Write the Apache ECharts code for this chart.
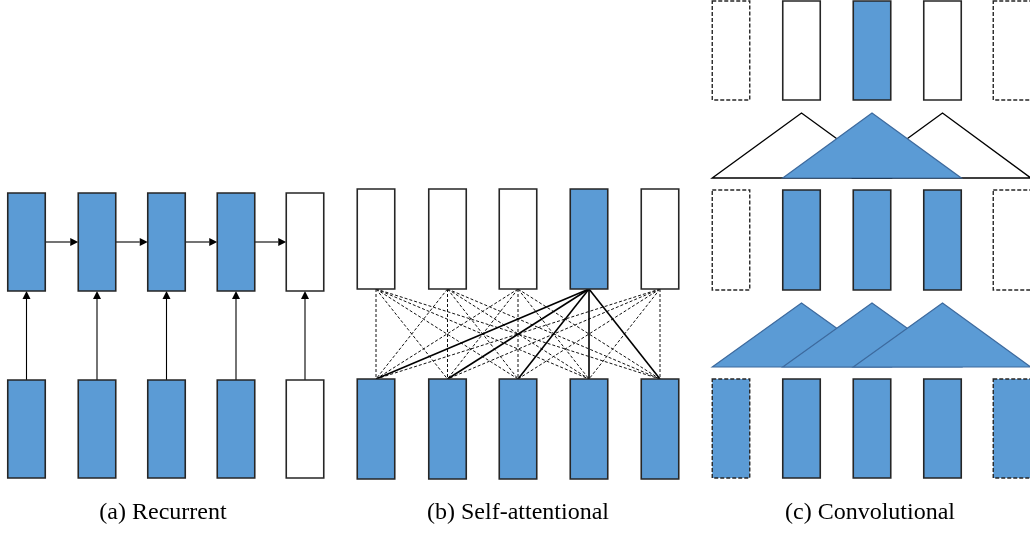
<!DOCTYPE html>
<html><head><meta charset="utf-8">
<script src="https://cdn.jsdelivr.net/npm/echarts@6/dist/echarts.min.js"></script>
<style>html,body{margin:0;padding:0;background:#fff}#c{width:1030px;height:535px}</style>
</head><body><div id="c"></div>
<script>
// ---- Diagram data ----
// Column centres for each panel
const colsA = [26.5, 97, 166.5, 236, 305];
const colsB = [376, 447.5, 518, 589, 660];
const colsC = [731, 801.5, 872, 942.5, 1012];
// Row extents [top, bottom]
const rowA_top = [193, 291];
const rowA_bottom = [380, 478];
const rowB_top = [189, 289];
const rowB_bottom = [379, 479];
const rowC_1 = [1, 100];
const rowC_2 = [190, 290];
const rowC_3 = [379, 478];
// Fill states (1 = filled blue, 0 = white)
const fillA_top = [1, 1, 1, 1, 0];
const fillA_bottom = [1, 1, 1, 1, 0];
const fillB_top = [0, 0, 0, 1, 0];
const fillB_bottom = [1, 1, 1, 1, 1];
const fillC_1 = [0, 0, 1, 0, 0];
const fillC_2 = [0, 1, 1, 1, 0];
const fillC_3 = [1, 1, 1, 1, 1];
const dashedC = [1, 0, 0, 0, 1];          // padding positions
const attnFocus = 3;                      // highlighted query in (b)
const recurrentY = 242;                   // level of the recurrent arrows
// Convolution windows: [firstCol, centreCol, lastCol]
const convWindows = [[0, 1, 2], [1, 2, 3], [2, 3, 4]];
const conv1Fill = [0, 1, 0];
const conv1Order = [0, 2, 1];
const conv2Fill = [1, 1, 1];
const conv1Y = [178, 113];  // [base, peak]
const conv2Y = [367, 303];
const captions = ['(a) Recurrent', '(b) Self-attentional', '(c) Convolutional'];
const captionX = [163, 518, 870];
const captionY = 513;

// ---- Build series data ----
const BW = 37.5;
const BLUE = '#5B9BD5';
const boxes = [];
function addRow(cols, row, fills, dashed) {
  cols.forEach((c, i) => boxes.push([c, row[0], row[1], fills[i], dashed ? dashed[i] : 0]));
}
addRow(colsA, rowA_top, fillA_top);
addRow(colsA, rowA_bottom, fillA_bottom);
addRow(colsB, rowB_top, fillB_top);
addRow(colsB, rowB_bottom, fillB_bottom);
addRow(colsC, rowC_1, fillC_1, dashedC);
addRow(colsC, rowC_2, fillC_2, dashedC);
addRow(colsC, rowC_3, fillC_3, dashedC);

// lines: [x1,y1,x2,y2,kind] kind 0 dashed, 1 solid, 2 arrow
const lines = [];
for (let i = 0; i < colsA.length - 1; i++) {
  lines.push([colsA[i] + BW / 2, recurrentY, colsA[i + 1] - BW / 2, recurrentY, 2]);
}
colsA.forEach(c => lines.push([c, rowA_bottom[0], c, rowA_top[1], 2]));
colsB.forEach((ct, i) => {
  if (i === attnFocus) return;
  colsB.forEach(cb => lines.push([ct, rowB_top[1], cb, rowB_bottom[0], 0]));
});
colsB.forEach(cb => lines.push([colsB[attnFocus], rowB_top[1], cb, rowB_bottom[0], 1]));

// triangles: [xl, xp, xr, yBase, yPeak, fill]
const tris = [];
conv1Order.forEach(k => {
  const w = convWindows[k];
  tris.push([colsC[w[0]] - BW / 2, colsC[w[1]], colsC[w[2]] + BW / 2, conv1Y[0], conv1Y[1], conv1Fill[k]]);
});
convWindows.forEach((w, k) => {
  tris.push([colsC[w[0]] - BW / 2, colsC[w[1]], colsC[w[2]] + BW / 2, conv2Y[0], conv2Y[1], conv2Fill[k]]);
});

const caps = captions.map((t, i) => [captionX[i], captionY, t]);

const chart = echarts.init(document.getElementById('c'), null, { renderer: 'canvas' });
chart.setOption({
  animation: false,
  backgroundColor: '#fff',
  grid: { left: 0, right: 0, top: 0, bottom: 0 },
  xAxis: { type: 'value', min: 0, max: 1030, show: false },
  yAxis: { type: 'value', min: 0, max: 535, inverse: true, show: false },
  series: [
    {
      type: 'custom', data: lines, clip: false, z: 2,
      encode: { x: [0, 2], y: [1, 3] },
      renderItem(params, api) {
        const a = api.coord([api.value(0), api.value(1)]);
        const b = api.coord([api.value(2), api.value(3)]);
        const kind = api.value(4);
        if (kind === 2) {
          const dx = b[0] - a[0], dy = b[1] - a[1];
          const L = Math.hypot(dx, dy), ux = dx / L, uy = dy / L;
          const hl = 8, hw = 4;
          const bx = b[0] - ux * hl, by = b[1] - uy * hl;
          return {
            type: 'group', children: [
              { type: 'line', shape: { x1: a[0], y1: a[1], x2: bx, y2: by }, style: { stroke: '#000', lineWidth: 1.1 } },
              { type: 'polygon', shape: { points: [[b[0], b[1]], [bx - uy * hw, by + ux * hw], [bx + uy * hw, by - ux * hw]] }, style: { fill: '#000' } }
            ]
          };
        }
        return {
          type: 'line', shape: { x1: a[0], y1: a[1], x2: b[0], y2: b[1] },
          style: kind === 1 ? { stroke: '#000', lineWidth: 1.6 } : { stroke: '#111', lineWidth: 1, lineDash: [3, 2] }
        };
      }
    },
    {
      type: 'custom', data: boxes, clip: false, z: 3,
      encode: { x: 0, y: [1, 2] },
      renderItem(params, api) {
        const p0 = api.coord([api.value(0) - BW / 2, api.value(1)]);
        const p1 = api.coord([api.value(0) + BW / 2, api.value(2)]);
        const dashed = api.value(4) === 1;
        return {
          type: 'rect',
          shape: { x: p0[0], y: p0[1], width: p1[0] - p0[0], height: p1[1] - p0[1] },
          style: { fill: api.value(3) ? BLUE : '#fff', stroke: '#262626', lineWidth: dashed ? 1.4 : 1.6, lineDash: dashed ? [4, 2] : null }
        };
      }
    },
    {
      type: 'custom', data: tris, clip: false, z: 3,
      encode: { x: [0, 1, 2], y: [3, 4] },
      renderItem(params, api) {
        const l = api.coord([api.value(0), api.value(3)]);
        const p = api.coord([api.value(1), api.value(4)]);
        const r = api.coord([api.value(2), api.value(3)]);
        const f = api.value(5);
        return {
          type: 'polygon', shape: { points: [l, p, r] },
          style: f ? { fill: BLUE, stroke: '#3D6A9E', lineWidth: 1.2 } : { fill: '#fff', stroke: '#000', lineWidth: 1.4 }
        };
      }
    },
    {
      type: 'custom', data: caps, clip: false, z: 4,
      encode: { x: 0, y: 1 },
      renderItem(params, api) {
        const p = api.coord([api.value(0), api.value(1)]);
        return {
          type: 'text', x: p[0], y: p[1],
          style: { text: caps[params.dataIndex][2], fill: '#000', font: '24px "Liberation Serif", "DejaVu Serif", serif', align: 'center', verticalAlign: 'middle' }
        };
      }
    }
  ]
});
</script>
</body></html>
